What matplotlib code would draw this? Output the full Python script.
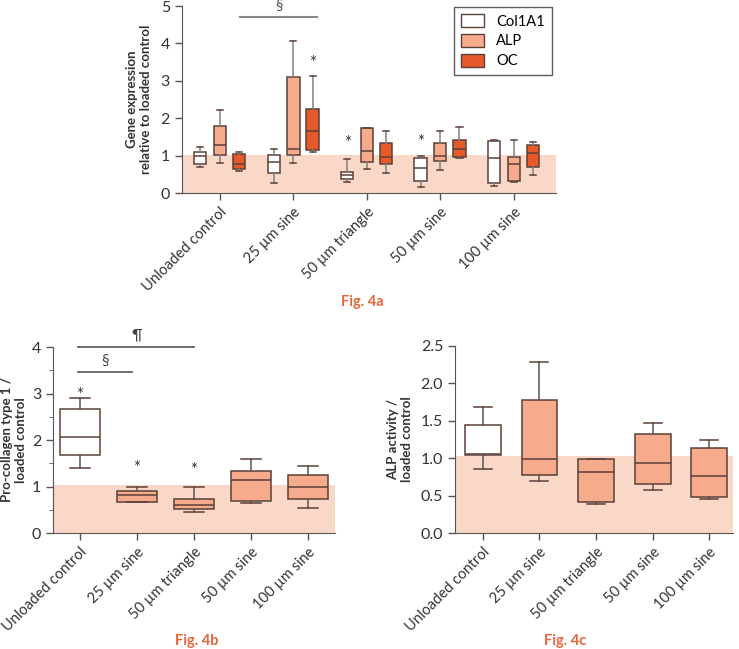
import matplotlib.pyplot as plt
import numpy as np

plt.rcParams['font.family'] = ['Lato', 'DejaVu Sans']

categories = ["Unloaded control", "25 µm sine", "50 µm triangle", "50 µm sine", "100 µm sine"]

# Fig. 4a - gene expression (whislo, q1, med, q3, whishi per group)
genes = ["Col1A1", "ALP", "OC"]
col_lo = [0.69, 0.28, 0.30, 0.16, 0.20]
col_q1 = [0.77, 0.53, 0.37, 0.33, 0.26]
col_med = [1.00, 0.82, 0.47, 0.66, 0.93]
col_q3 = [1.10, 1.01, 0.56, 0.93, 1.39]
col_hi = [1.22, 1.18, 0.91, 1.00, 1.43]

alp_lo = [0.81, 0.81, 0.63, 0.61, 0.30]
alp_q1 = [1.01, 1.01, 0.83, 0.85, 0.33]
alp_med = [1.28, 1.17, 1.13, 1.00, 0.78]
alp_q3 = [1.79, 3.11, 1.75, 1.33, 0.97]
alp_hi = [2.21, 4.06, 1.75, 1.66, 1.41]

oc_lo = [0.60, 1.11, 0.53, 0.93, 0.47]
oc_q1 = [0.63, 1.16, 0.77, 0.96, 0.69]
oc_med = [0.77, 1.65, 0.95, 1.19, 1.07]
oc_q3 = [1.04, 2.25, 1.33, 1.41, 1.28]
oc_hi = [1.10, 3.14, 1.67, 1.76, 1.36]

# stars in 4a: (group, gene index, y of star centre)
stars_a = [(1, 2, 3.6), (2, 0, 1.47), (3, 0, 1.49)]

# Fig. 4b - pro-collagen type 1
pc_lo = [1.39, 0.66, 0.46, 0.64, 0.54]
pc_q1 = [1.67, 0.66, 0.51, 0.69, 0.74]
pc_med = [2.06, 0.81, 0.61, 1.14, 0.98]
pc_q3 = [2.67, 0.91, 0.74, 1.34, 1.24]
pc_hi = [2.91, 0.98, 0.98, 1.59, 1.44]
stars_b = [(0, 3.07), (1, 1.49), (2, 1.46)]

# Fig. 4c - ALP activity
aa_lo = [0.85, 0.70, 0.39, 0.58, 0.45]
aa_q1 = [1.04, 0.78, 0.42, 0.66, 0.48]
aa_med = [1.05, 0.99, 0.82, 0.93, 0.76]
aa_q3 = [1.44, 1.78, 0.99, 1.32, 1.14]
aa_hi = [1.69, 2.28, 0.99, 1.47, 1.24]

white = "#ffffff"
light = "#f5ab8c"
dark = "#e65a2a"
band = "#f9d8c8"
edge = "#5b4038"
orange_txt = "#e8643c"


def stats(lo, q1, med, q3, hi):
    return [dict(whislo=a, q1=b, med=c, q3=d, whishi=e, fliers=[])
            for a, b, c, d, e in zip(lo, q1, med, q3, hi)]


def draw_boxes(ax, st, pos, width, fills, whisk="#555555"):
    bp = ax.bxp(st, positions=pos, widths=width, patch_artist=True,
                showfliers=False, manage_ticks=False,
                boxprops=dict(edgecolor=edge, linewidth=1.1),
                medianprops=dict(color=edge, linewidth=1.1),
                whiskerprops=dict(color=whisk, linewidth=1.1),
                capprops=dict(color=edge, linewidth=1.1))
    for patch, f in zip(bp['boxes'], fills):
        patch.set_facecolor(f)
    return bp


def star(ax, xv, yv):
    # baseline placed below the wanted centre so the glyph sits on yv
    ax.annotate("*", (xv, yv), xytext=(0, -7), textcoords='offset points',
                ha='center', va='baseline', fontsize=12, color='#333333')


def style(ax, xlim, ylim, yticks, fmt):
    ax.spines['top'].set_visible(False)
    ax.spines['right'].set_visible(False)
    ax.spines['left'].set_color('#555555')
    ax.spines['bottom'].set_color('#555555')
    ax.set_xlim(*xlim)
    ax.set_ylim(*ylim)
    ax.axhspan(0, 1.03, color=band, zorder=0, lw=0)
    ax.set_xticks(range(len(categories)))
    ax.set_xticklabels(categories, rotation=45, ha='right', rotation_mode='anchor', fontsize=10.5, color='#333333')
    ax.set_yticks(yticks)
    ax.set_yticklabels([fmt.format(v) for v in yticks], fontsize=11.5, color='#333333')
    ax.tick_params(axis='both', direction='out', length=5, color='#555555', width=1)


fig = plt.figure(figsize=(7.39, 6.49), dpi=100)

# ---------- Fig. 4a ----------
ax1 = fig.add_axes([0.246, 0.7026, 0.506, 0.288])
x = np.arange(len(categories))
offsets = [-0.27, 0.0, 0.26]
fills = [white, light, dark]
all_stats = [stats(col_lo, col_q1, col_med, col_q3, col_hi),
             stats(alp_lo, alp_q1, alp_med, alp_q3, alp_hi),
             stats(oc_lo, oc_q1, oc_med, oc_q3, oc_hi)]
for st, off, f in zip(all_stats, offsets, fills):
    draw_boxes(ax1, st, x + off, 0.165, [f] * len(categories), whisk="#808080")
style(ax1, (-0.52, 4.57), (0, 5), [0, 1, 2, 3, 4, 5], "{:d}")
ax1.set_ylabel("Gene expression\nrelative to loaded control", fontsize=9.5, fontweight='bold', color='#333333')
ax1.yaxis.set_label_coords(-0.08, 0.5)
for g, k, yv in stars_a:
    star(ax1, x[g] + offsets[k], yv)
ax1.plot([0.27, 1.32], [4.7, 4.7], color='#888888', lw=1.5, clip_on=False)
ax1.text(0.8, 4.82, "§", ha='center', va='bottom', fontsize=11, color='#555555', clip_on=False)
handles = [plt.Rectangle((0, 0), 1, 1, facecolor=f, edgecolor=edge, lw=1) for f in fills]
leg = ax1.legend(handles, genes, loc='upper right', bbox_to_anchor=(0.99, 0.995), borderaxespad=0,
                 fontsize=10.5, frameon=True, fancybox=False, edgecolor='#333333', handlelength=1.6,
                 handleheight=1.0, borderpad=0.5, labelspacing=0.35)
leg.get_frame().set_linewidth(1.0)
fig.text(362 / 739, 1 - 302 / 649, "Fig. 4a", ha='center', va='center', fontsize=10.5, color=orange_txt, fontweight='bold')

# ---------- Fig. 4b ----------
ax2 = fig.add_axes([0.0717, 0.1787, 0.3813, 0.2866])
draw_boxes(ax2, stats(pc_lo, pc_q1, pc_med, pc_q3, pc_hi), x, 0.7, [white] + [light] * 4)
style(ax2, (-0.47, 4.47), (0, 4), [0, 1, 2, 3, 4], "{:d}")
ax2.set_yticks(np.arange(0.5, 4, 1), minor=True)
ax2.tick_params(axis='y', which='minor', length=3, color='#555555')
ax2.set_ylabel("Pro-collagen type 1 /\nloaded control", fontsize=9.5, fontweight='bold', color='#333333')
ax2.yaxis.set_label_coords(-0.092, 0.5)
for g, yv in stars_b:
    star(ax2, x[g], yv)
ax2.plot([-0.03, 2.0], [3.99, 3.99], color='#555555', lw=1.2, clip_on=False)
ax2.text(1.0, 4.1, "¶", ha='center', va='bottom', fontsize=11, color='#444444', clip_on=False)
ax2.plot([-0.03, 0.92], [3.46, 3.46], color='#555555', lw=1.2, clip_on=False)
ax2.text(0.45, 3.56, "§", ha='center', va='bottom', fontsize=11, color='#444444', clip_on=False)
fig.text(197 / 739, 1 - 641 / 649, "Fig. 4b", ha='center', va='center', fontsize=10.5, color=orange_txt, fontweight='bold')

# ---------- Fig. 4c ----------
ax3 = fig.add_axes([0.6157, 0.1787, 0.3763, 0.2882])
draw_boxes(ax3, stats(aa_lo, aa_q1, aa_med, aa_q3, aa_hi), x, 0.63, [white] + [light] * 4)
style(ax3, (-0.49, 4.42), (0, 2.5), [0, 0.5, 1.0, 1.5, 2.0, 2.5], "{:.1f}")
ax3.set_ylabel("ALP activity /\nloaded control", fontsize=9.5, fontweight='bold', color='#333333')
ax3.yaxis.set_label_coords(-0.151, 0.5)
fig.text(565 / 739, 1 - 641 / 649, "Fig. 4c", ha='center', va='center', fontsize=10.5, color=orange_txt, fontweight='bold')

fig.savefig("out.png", dpi=100)
